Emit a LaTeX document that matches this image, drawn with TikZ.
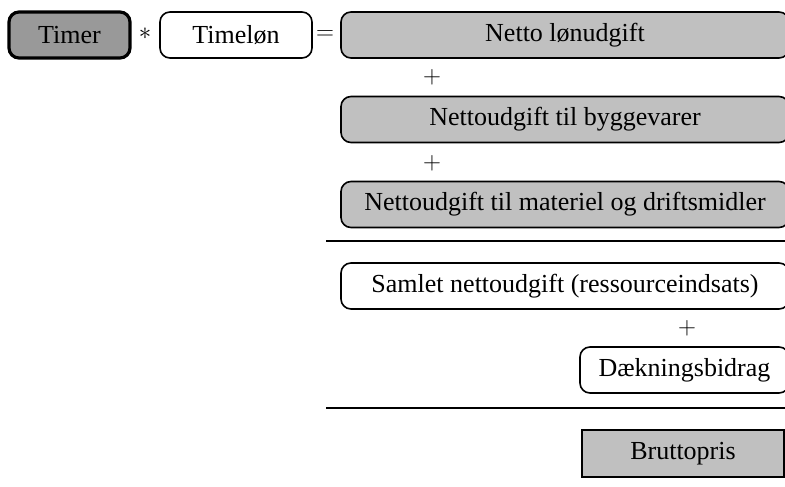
\documentclass[tikz,border=0pt]{standalone}
\usepackage{fontspec}
\setmainfont{Liberation Serif}
\usepackage{tikz}
\definecolor{darkfill}{HTML}{999999}
\definecolor{lightfill}{HTML}{C0C0C0}
\tikzset{
  post/.style={draw, rounded corners=10pt, line width=1.6pt, minimum height=46pt, inner sep=0pt, font=\fontsize{26}{30}\selectfont},
  sign/.style={inner sep=0pt, font=\fontsize{26}{30}\selectfont},
  rule/.style={line width=2pt}
}

\begin{document}
\begin{tikzpicture}[x=1pt,y=-1pt]
\useasboundingbox (0,0) rectangle (785,487);
%\clip (0,0) rectangle (785,487);
\begin{scope}
    \node[post, fill=darkfill, line width=3.2pt, minimum width=121pt] (T) at (69.5,35) {Timer};
    \node[sign] (S) at (145,34) {$\ast$};
    \node[post, fill=white, minimum width=152pt] (L) at (236,35) {Timeløn};
    \node[sign] (E) at (325,35) {$=$};
    \node[post, fill=lightfill, minimum width=448pt] (A) at (565,35) {Netto lønudgift};
\end{scope}

\begin{scope}
    \node[sign] (P1) at (432,77) {$+$};
    \node[post, fill=lightfill, minimum width=448pt] (B) at (565,119.5) {Nettoudgift til byggevarer};
    \node[sign] (P2) at (432,163) {$+$};
    \node[post, fill=lightfill, minimum width=448pt] (C) at (565,204.5) {Nettoudgift til materiel og driftsmidler};
\end{scope}
\draw[rule] (326,241) -- (785,241);

\begin{scope}
    \node[post, fill=white, minimum width=448pt] (D) at (565,286) {Samlet nettoudgift (ressourceindsats)};
    \node[sign] (P3) at (687,328) {$+$};
    \node[post, fill=white, minimum width=209pt] (F) at (684.5,370) {Dækningsbidrag};
\end{scope}
\draw[rule] (326,408) -- (785,408);

\node[post, rounded corners=0pt, fill=lightfill, minimum width=202pt, minimum height=47pt] (G) at (683,453.5) {Bruttopris};
\end{tikzpicture}
\end{document}
